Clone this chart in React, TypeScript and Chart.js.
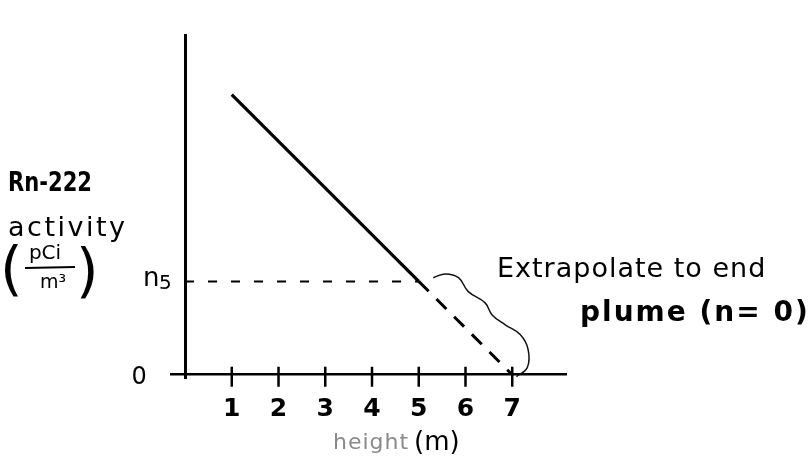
import React, { useEffect, useRef } from "react";
import { Chart, registerables } from "chart.js";

Chart.register(...registerables);

// Measured profile: Rn-222 activity falling linearly with height
const measuredHeights = [1, 5];
const measuredActivity = [6, 2];
// Extrapolation of the same trend down to zero activity (end of plume)
const extrapHeights = [5, 7];
const extrapActivity = [2, 0];
// Reference level n5 read at 5 m
const n5Level = 2;
const n5Heights = [0, 5];
// Height axis tick labels
const heightTicks = [1, 2, 3, 4, 5, 6, 7];
// Curly bracket beside the extrapolated segment
const braceHeights = [5.31, 5.57, 5.85, 6.06, 6.42, 6.57, 6.85, 7.17, 7.34, 7.32, 7.09];
const braceActivity = [2.08, 2.16, 2.08, 1.78, 1.54, 1.28, 1.07, 0.86, 0.54, 0.15, -0.04];

const FONT = "'DejaVu Sans', sans-serif";

const pairs = (xs: number[], ys: number[]) => xs.map((x, i) => ({ x, y: ys[i] }));

const sketchText = {
  id: "sketchText",
  afterDatasetsDraw(chart: any) {
    const { ctx, scales } = chart;
    const xs = scales.x;
    const ys = scales.y;
    const x0 = xs.getPixelForValue(0);
    const y0 = ys.getPixelForValue(0);

    ctx.save();
    ctx.strokeStyle = "#000";
    ctx.fillStyle = "#000";

    // tick marks crossing the height axis
    ctx.lineWidth = 2.5;
    heightTicks.forEach((v) => {
      const px = xs.getPixelForValue(v);
      ctx.beginPath();
      ctx.moveTo(px, y0 - 8);
      ctx.lineTo(px, y0 + 12);
      ctx.stroke();
    });

    ctx.textBaseline = "middle";

    // y tick labels: 0 and n5
    ctx.textAlign = "center";
    ctx.font = `24px ${FONT}`;
    ctx.fillText("0", x0 - 46, y0 + 3);

    const yn5 = ys.getPixelForValue(n5Level);
    ctx.textAlign = "left";
    ctx.font = `26px ${FONT}`;
    ctx.fillText("n", x0 - 42, yn5 - 2);
    ctx.font = `20px ${FONT}`;
    ctx.fillText("5", x0 - 26, yn5 + 2);

    // y axis title
    ctx.font = `bold 27px ${FONT}`;
    ctx.fillText("Rn-222", 8, 184, 84);
    ctx.font = `27px ${FONT}`;
    (ctx as any).letterSpacing = "2.5px";
    ctx.fillText("activity", 8, 229);
    (ctx as any).letterSpacing = "0px";
    ctx.font = `58px ${FONT}`;
    ctx.fillText("(", 0, 274);
    ctx.fillText(")", 76, 276);
    ctx.textAlign = "center";
    ctx.font = `20px ${FONT}`;
    ctx.fillText("pCi", 45, 254);
    ctx.font = `19px ${FONT}`;
    ctx.fillText("m³", 53, 283);
    ctx.lineWidth = 2;
    ctx.beginPath();
    ctx.moveTo(25, 268);
    ctx.lineTo(75, 267);
    ctx.stroke();

    // x axis title
    ctx.textAlign = "left";
    ctx.font = `22px ${FONT}`;
    ctx.fillStyle = "#8a8a8a";
    (ctx as any).letterSpacing = "1px";
    ctx.fillText("height", 333, 443);
    (ctx as any).letterSpacing = "0px";
    ctx.fillStyle = "#000";
    ctx.font = `26px ${FONT}`;
    ctx.fillText("(m)", 414, 443);

    // annotation
    ctx.font = `27px ${FONT}`;
    (ctx as any).letterSpacing = "1px";
    ctx.fillText("Extrapolate to end", 497, 270);
    ctx.font = `bold 28px ${FONT}`;
    (ctx as any).letterSpacing = "2px";
    ctx.fillText("plume (n= 0)", 580, 314);
    (ctx as any).letterSpacing = "0px";

    ctx.restore();
  },
};

export default function App() {
  const canvasRef = useRef<HTMLCanvasElement | null>(null);

  useEffect(() => {
    if (!canvasRef.current) return;
    const chart = new Chart(canvasRef.current, {
      type: "scatter",
      data: {
        datasets: [
          {
            label: "measured",
            data: pairs(measuredHeights, measuredActivity),
            showLine: true,
            borderColor: "#000",
            borderWidth: 3.2,
            pointRadius: 0,
          },
          {
            label: "extrapolated",
            data: pairs(extrapHeights, extrapActivity),
            showLine: true,
            borderColor: "#000",
            borderWidth: 3,
            borderDash: [14, 11],
            pointRadius: 0,
          },
          {
            label: "n5",
            data: pairs(n5Heights, n5Heights.map(() => n5Level)),
            showLine: true,
            borderColor: "#000",
            borderWidth: 2,
            borderDash: [9, 14],
            pointRadius: 0,
          },
          {
            label: "bracket",
            data: pairs(braceHeights, braceActivity),
            showLine: true,
            borderColor: "#111",
            borderWidth: 1.5,
            tension: 0.4,
            pointRadius: 0,
          },
        ],
      },
      options: {
        animation: false,
        responsive: true,
        maintainAspectRatio: false,
        layout: { padding: { left: 171, right: 246, top: 35, bottom: 87 } },
        plugins: {
          legend: { display: false },
          tooltip: { enabled: false },
        },
        scales: {
          x: {
            type: "linear",
            min: -0.3,
            max: 8.15,
            position: { y: 0 } as any,
            grid: { display: false, drawTicks: false },
            border: { display: true, color: "#000", width: 2.5 },
            afterBuildTicks: (scale: any) => {
              scale.ticks = heightTicks.map((v) => ({ value: v }));
            },
            ticks: {
              color: "#000",
              padding: 20,
              font: { family: FONT, size: 25, weight: "bold" },
              callback: (v: any) => String(v),
            },
          },
          y: {
            type: "linear",
            min: -0.07,
            max: 7.28,
            position: { x: 0 } as any,
            grid: { display: false, drawTicks: false },
            border: { display: true, color: "#000", width: 3 },
            ticks: { display: false },
          },
        },
      },
      plugins: [sketchText],
    });
    return () => chart.destroy();
  }, []);

  return (
    <div style={{ position: "fixed", left: 0, top: 0, width: 812, height: 465, background: "#fff" }}>
      <canvas ref={canvasRef} />
    </div>
  );
}
